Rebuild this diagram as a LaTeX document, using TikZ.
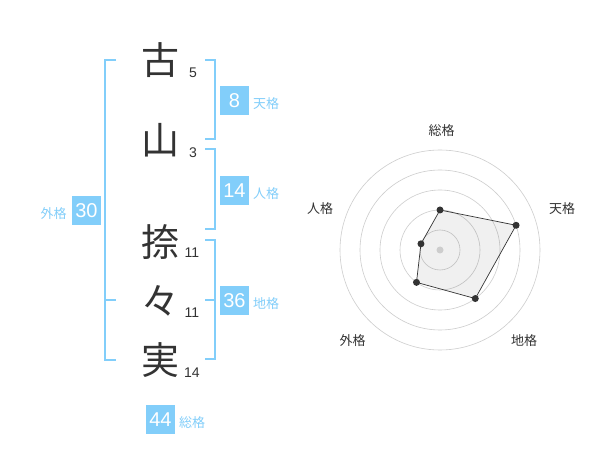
\documentclass[tikz,border=0pt]{standalone}
\usepackage{fontspec}
\usetikzlibrary{calc}
\setmainfont{Liberation Sans}
\newfontfamily\cjk{Noto Sans CJK JP}
\definecolor{sky}{RGB}{130,206,250}
\definecolor{ink}{RGB}{51,51,51}
\definecolor{ring}{RGB}{205,205,205}
\begin{document}
\begin{tikzpicture}[x=1pt,y=-1pt,
  kanji/.style={inner sep=0pt,text=ink,font=\cjk\fontsize{38}{38}\selectfont},
  stroke/.style={inner sep=0pt,text=ink,font=\fontsize{14}{14}\selectfont},
  numbox/.style={fill=sky,text=white,minimum width=29pt,minimum height=29pt,inner sep=0pt,font=\fontsize{20}{20}\selectfont},
  kaku/.style={inner sep=0pt,text=sky,font=\cjk\fontsize{13}{13}\selectfont},
  rlabel/.style={inner sep=0pt,text=ink,font=\cjk\fontsize{13}{13}\selectfont},
  brk/.style={draw=sky,line width=2pt},
  ringline/.style={draw=ring,line width=0.6pt},
  dot/.style={circle,fill=ink,inner sep=0pt,minimum size=7pt}]
\useasboundingbox (0,0) rectangle (600,470);
\fill[white] (0,0) rectangle (600,470);
% kanji
\node[kanji] (k1) at (160,60) {古};
\node[kanji] (k2) at (160,140) {山};
\node[kanji] (k3) at (160,242) {捺};
\node[kanji] (k4) at (160,301) {々};
\node[kanji] (k5) at (160,360) {実};
% stroke counts
\node[stroke] (s1) at (193,73) {5};
\node[stroke] (s2) at (193,153) {3};
\node[stroke] (s3) at (192,253) {11};
\node[stroke] (s4) at (192,313) {11};
\node[stroke] (s5) at (192,373) {14};
% brackets
\coordinate (lt) at (116,60);
\coordinate (lm) at (116,300);
\coordinate (lb) at (116,360);
\draw[brk] (lt) -- (105,60) -- (105,360) -- (lb);
\draw[brk] (105,300) -- (lm);
\coordinate (t1) at (205,60); \coordinate (t2) at (205,139.5);
\draw[brk] (t1) -- (214.5,60) -- (214.5,139.5) -- (t2);
\coordinate (j1) at (205,149.5); \coordinate (j2) at (205,229.5);
\draw[brk] (j1) -- (214.5,149.5) -- (214.5,229.5) -- (j2);
\coordinate (c1) at (205,240); \coordinate (c2) at (205,359.5); \coordinate (c3) at (205,300);
\draw[brk] (c1) -- (214.5,240) -- (214.5,359.5) -- (c2);
\draw[brk] (214.5,300) -- (c3);
% boxes
\node[numbox] (b8) at (234.5,100.5) {8};
\node[kaku] (l8) at (266,104) {天格};
\node[numbox] (b14) at (234.5,190.5) {14};
\node[kaku] (l14) at (266,194) {人格};
\node[numbox] (b36) at (234.5,300.5) {36};
\node[kaku] (l36) at (266,304) {地格};
\node[numbox] (b30) at (86.5,210.5) {30};
\node[kaku] (l30) at (53.5,214) {外格};
\node[numbox] (b44) at (160.5,419.5) {44};
\node[kaku] (l44) at (192,422.5) {総格};
% radar
\coordinate (rc) at (440,250);
\foreach \r in {20,40,60,80,100} \draw[ringline] (rc) circle[radius=\r pt];
\coordinate (pS) at ($(rc)+(90:40pt)$);
\coordinate (pT) at ($(rc)+(18:80pt)$);
\coordinate (pC) at ($(rc)+(-54:60pt)$);
\coordinate (pG) at ($(rc)+(234:40pt)$);
\coordinate (pJ) at ($(rc)+(162:20pt)$);
\draw[ink,fill=black,fill opacity=0.06,line width=0.7pt] (pS) -- (pT) -- (pC) -- (pG) -- (pJ) -- cycle;
\node[circle,fill=ring,inner sep=0pt,minimum size=7pt] (cen) at (rc) {};
\foreach \p in {pS,pT,pC,pG,pJ} \node[dot] (d\p) at (\p) {};
\node[rlabel] (rS) at (441.5,131) {総格};
\node[rlabel] (rT) at (562,208.5) {天格};
\node[rlabel] (rC) at (524,340.5) {地格};
\node[rlabel] (rG) at (352.5,341) {外格};
\node[rlabel] (rJ) at (320,208.5) {人格};
\end{tikzpicture}
\end{document}
